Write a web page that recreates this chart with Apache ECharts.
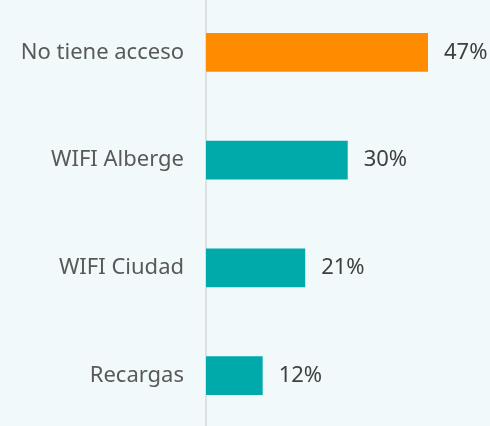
<!DOCTYPE html>
<html>
<head>
<meta charset="utf-8">
<script src="https://cdn.jsdelivr.net/npm/echarts@6/dist/echarts.min.js"></script>
<style>
  html, body { margin: 0; padding: 0; background: #f1f9fa; }
  #main { width: 490px; height: 426px; }
</style>
</head>
<body>
<div id="main"></div>
<script>
// datos (de arriba hacia abajo)
var categorias = ['No tiene acceso', 'WIFI Alberge', 'WIFI Ciudad', 'Recargas'];
var valores = [47, 30, 21, 12];
var colores = ['#ff8c00', '#00aaaa', '#00aaaa', '#00aaaa'];

var myChart = echarts.init(document.getElementById('main'));
var option = {
	backgroundColor: '#f1f9fa',
	animation: false,
	grid: {
		left: 206,
		top: -1.5,
		width: 283.4,
		height: 431,
		outerBoundsMode: 'none'
	},
	xAxis: {
		type: 'value',
		min: 0,
		max: 60,
		show: false
	},
	yAxis: {
		type: 'category',
		inverse: true,
		data: categorias,
		axisLine: { show: true, lineStyle: { color: '#d9d9d9', width: 1.5 } },
		axisTick: { show: false },
		axisLabel: {
			margin: 22,
			fontSize: 22,
			color: '#595959',
			fontFamily: 'Noto Sans'
		}
	},
	series: [{
		type: 'bar',
		barWidth: '36%',
		data: valores.map(function(v, i) {
			return { value: v, itemStyle: { color: colores[i] } };
		}),
		label: {
			show: true,
			position: 'right',
			distance: 16,
			fontSize: 22,
			color: '#404040',
			fontFamily: 'Noto Sans',
			formatter: '{c}%'
		}
	}]
};
myChart.setOption(option);
</script>
</body>
</html>
